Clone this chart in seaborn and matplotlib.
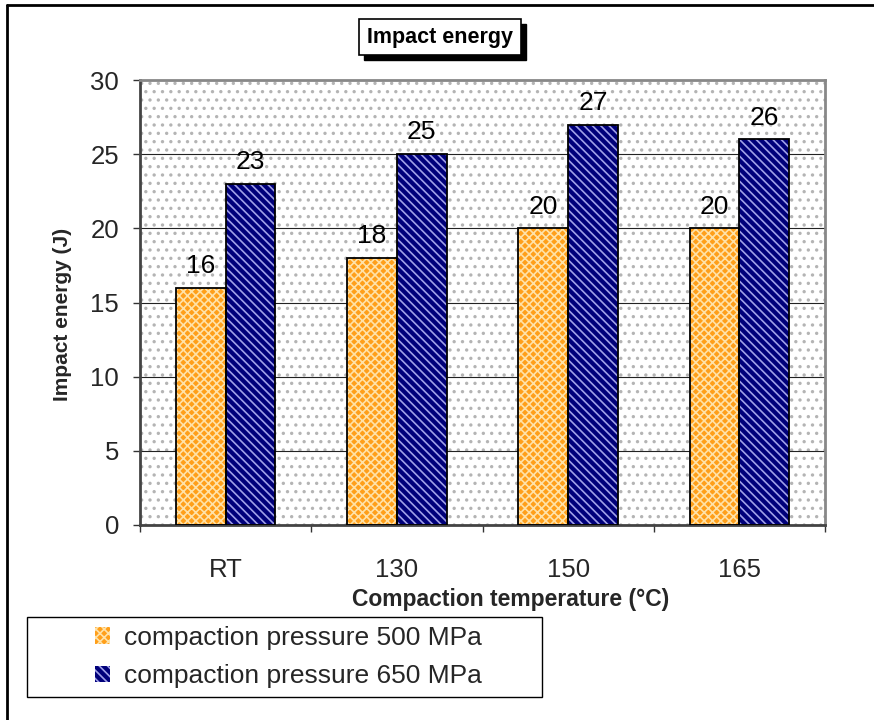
import matplotlib
matplotlib.use("Agg")
import matplotlib.pyplot as plt
import matplotlib.patches as mpatches
from matplotlib.lines import Line2D
import seaborn as sns
import pandas as pd

categories = ["RT", "130", "150", "165"]
series_names = ["compaction pressure 500 MPa", "compaction pressure 650 MPa"]
values_500 = [16, 18, 20, 20]
values_650 = [23, 25, 27, 26]

df = pd.DataFrame({
    "temp": categories * 2,
    "energy": values_500 + values_650,
    "series": [series_names[0]] * 4 + [series_names[1]] * 4,
})

sns.set_theme(style="white")
plt.rcParams["font.family"] = ["Liberation Sans", "DejaVu Sans"]
plt.rcParams["hatch.linewidth"] = 1.2

face = {series_names[0]: "#FF9F1A", series_names[1]: "#00007A"}
hatchcol = {series_names[0]: "#FFE2A8", series_names[1]: "#A0A0E8"}
hatches = {series_names[0]: "xxxx", series_names[1]: "\\\\\\\\"}

fig = plt.figure(figsize=(8.74, 7.2), dpi=100)
ax = fig.add_axes([140 / 874, 1 - 525 / 720, 685 / 874, 445 / 720])

sns.barplot(data=df, x="temp", y="energy", hue="series", order=categories,
            hue_order=series_names, palette=face, width=0.58, gap=0,
            saturation=1, ax=ax, legend=False)

ax.patch.set_facecolor("white")
ax.patch.set_hatch("..")
ax.patch.set_edgecolor("#b4b4b4")
ax.patch.set_linewidth(0)

for cont, name in zip(ax.containers, series_names):
    for bar in cont:
        bar.set_hatch(hatches[name])
        bar.set_edgecolor(hatchcol[name])
        bar.set_linewidth(0)
        bar.set_zorder(2)
        ax.add_patch(mpatches.Rectangle(bar.get_xy(), bar.get_width(), bar.get_height(),
                                        fill=False, edgecolor="black", linewidth=1.3, zorder=3))
    ax.bar_label(cont, padding=7, fontsize=19, color="black")

ax.set_ylim(0, 30)
ax.set_xlim(-0.5, 3.5)
ax.set_yticks([0, 5, 10, 15, 20, 25, 30])
ax.yaxis.grid(True, color="#222222", linewidth=0.8)
ax.set_axisbelow(True)
ax.tick_params(axis="y", which="major", direction="out", length=5, width=1, color="#333333",
               labelsize=18.5, pad=10, left=True)
ax.set_xticks(range(4))
ax.set_xticklabels(categories)
ax.set_xticks([-0.5, 0.5, 1.5, 2.5, 3.5], minor=True)
ax.tick_params(axis="x", which="major", length=0, labelsize=18.5, pad=24)
ax.tick_params(axis="x", which="minor", direction="out", length=5, width=1, color="#333333", bottom=True)

for s in ["left", "bottom"]:
    ax.spines[s].set_color("#444444")
    ax.spines[s].set_linewidth(2)
for s in ["top", "right"]:
    ax.spines[s].set_visible(True)
    ax.spines[s].set_color("#888888")
    ax.spines[s].set_linewidth(2)

ax.set_ylabel("Impact energy (J)", fontsize=15, fontweight="bold")
ax.yaxis.set_label_coords((72 - 140) / 685, (525 - 314) / 445)
ax.set_xlabel("Compaction temperature (°C)", fontsize=16.5, fontweight="bold")
ax.xaxis.set_label_coords((511 - 140) / 685, -0.141)

# title box with shadow
title = fig.text(440 / 874, 1 - 37 / 720, "Impact energy", fontsize=15.5, fontweight="bold",
                 ha="center", va="center", color="black", zorder=5,
                 bbox=dict(boxstyle="square,pad=0.35", facecolor="white", edgecolor="black",
                           linewidth=1.2))
fig.canvas.draw()
bb = title.get_bbox_patch().get_window_extent().transformed(fig.transFigure.inverted())
fig.add_artist(mpatches.Rectangle((bb.x0 + 5 / 874, bb.y0 - 5 / 720), bb.width, bb.height,
                                  transform=fig.transFigure, facecolor="black",
                                  edgecolor="black", zorder=4))

# legend frame
fig.add_artist(mpatches.Rectangle((27 / 874, 1 - 697 / 720), (542 - 27) / 874, 80 / 720,
                                  transform=fig.transFigure, fill=False, edgecolor="black",
                                  linewidth=1))
handles = [mpatches.Patch(facecolor=face[n], edgecolor=hatchcol[n], hatch=hatches[n], linewidth=0)
           for n in series_names]
leg = fig.legend(handles, series_names, loc="center",
                 bbox_to_anchor=(288 / 874, 1 - 657 / 720),
                 fontsize=19, frameon=False,
                 handlelength=0.6, handleheight=0.6, handletextpad=0.5,
                 borderpad=0.2, labelspacing=0.55, borderaxespad=0)

# outer frame lines (top and left)
fig.add_artist(Line2D([7 / 874, 1], [1 - 5 / 720, 1 - 5 / 720], color="black", linewidth=2,
                      transform=fig.transFigure))
fig.add_artist(Line2D([7 / 874, 7 / 874], [0, 1 - 5 / 720], color="black", linewidth=2,
                      transform=fig.transFigure))

fig.savefig("out.png", dpi=100)
